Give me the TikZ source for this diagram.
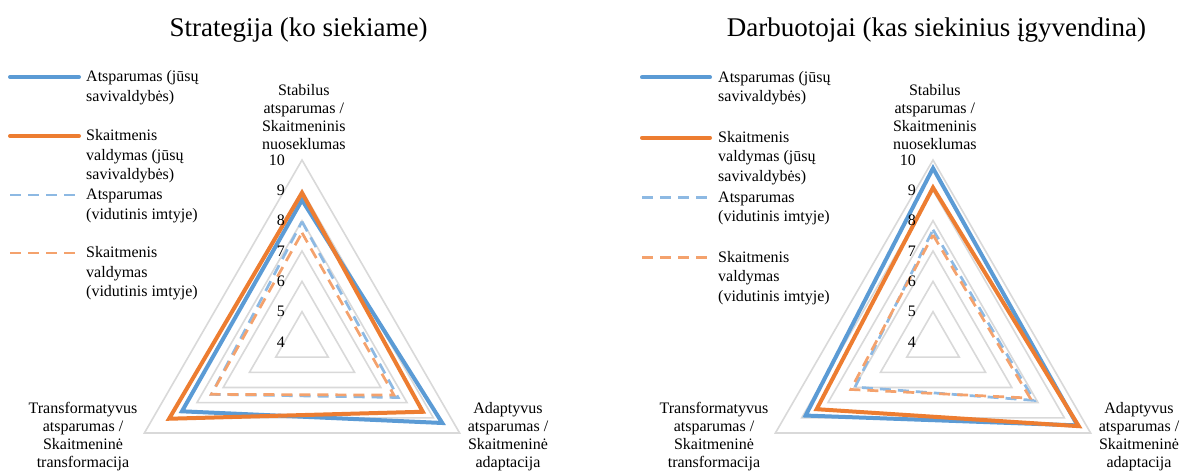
\documentclass[tikz,border=0pt]{standalone}
\usepackage{fontspec}
\setmainfont{Liberation Serif}
\usetikzlibrary{calc}
\definecolor{serA}{HTML}{5B9BD5}
\definecolor{serB}{HTML}{ED7D31}
\definecolor{serAl}{HTML}{8DB9E3}
\definecolor{serBl}{HTML}{F4A26D}
\definecolor{gridc}{HTML}{D9D9D9}
\newcommand\Uu{30.33}
\newcommand\rpoly[4]{\draw[#1] (-90:{(#2-4)*\Uu}) -- (30:{(#3-4)*\Uu}) -- (150:{(#4-4)*\Uu}) -- cycle;}
\newcommand\mlines[2]{\begin{tabular}[t]{@{}#1@{}}#2\end{tabular}}
\begin{document}
\begin{tikzpicture}[x=1pt,y=-1pt,
  gridline/.style={draw=gridc, line width=1.6pt},
  serAs/.style={draw=serA, line width=4pt},
  serBs/.style={draw=serB, line width=4pt},
  serAd/.style={draw=serAl, line width=2.7pt, dash pattern=on 11pt off 7pt},
  serBd/.style={draw=serBl, line width=2.7pt, dash pattern=on 11pt off 7pt},
  ttl/.style={inner sep=0pt, anchor=base, font=\fontsize{27}{32}\selectfont},
  lg/.style={inner sep=0pt, anchor=base west, font=\fontsize{16}{19.5}\selectfont},
  ax/.style={inner sep=0pt, anchor=base, font=\fontsize{16}{18.3}\selectfont},
  axb/.style={inner sep=0pt, anchor=base, font=\fontsize{16}{18}\selectfont},
  tick/.style={inner sep=0pt, anchor=east, font=\fontsize{16}{19}\selectfont}]
\useasboundingbox[fill=white] (0,0) rectangle (1182,471);

% titles
\node[ttl] (t1) at (298.5,36) {Strategija (ko siekiame)};
\node[ttl] (t2) at (936.5,36) {Darbuotojai (kas siekinius įgyvendina)};

% ---------- left chart ----------
\begin{scope}[shift={(302,342)}]
  \foreach \L in {5,...,10}{\rpoly{gridline}{\L}{\L}{\L}}
  \rpoly{serAs}{8.68}{9.34}{8.57}
  \rpoly{serBs}{8.92}{8.6}{9.06}
  \rpoly{serAd}{7.97}{7.66}{7.45}
  \rpoly{serBd}{7.6}{7.5}{7.45}
  \foreach \L in {4,...,10}{\node[tick] (la\L) at (-17,{-(\L-4)*\Uu}) {\L};}
\end{scope}
\node[ax] (la1) at (303.8,95) {\mlines{c}{Stabilus\\atsparumas /\\Skaitmeninis\\nuoseklumas}};
\node[axb] (la2) at (508,413.5) {\mlines{c}{Adaptyvus\\atsparumas /\\Skaitmeninė\\adaptacija}};
\node[axb] (la3) at (83,413.5) {\mlines{c}{Transformatyvus\\atsparumas /\\Skaitmeninė\\transformacija}};

% left legend
\draw[serAs, line cap=round] (10,77) -- (79,77);
\node[lg] (lg1) at (86,81.5) {\mlines{l}{Atsparumas (jūsų\\savivaldybės)}};
\draw[serBs, line cap=round] (10,136) -- (79,136);
\node[lg] (lg2) at (86,140.5) {\mlines{l}{Skaitmenis\\valdymas (jūsų\\savivaldybės)}};
\draw[serAd] (10,195) -- (77,195);
\node[lg] (lg3) at (86,199.5) {\mlines{l}{Atsparumas\\(vidutinis imtyje)}};
\draw[serBd] (10,253) -- (77,253);
\node[lg] (lg4) at (86,257.5) {\mlines{l}{Skaitmenis\\valdymas\\(vidutinis imtyje)}};

% ---------- right chart ----------
\begin{scope}[shift={(933,342)}]
  \foreach \L in {5,...,10}{\rpoly{gridline}{\L}{\L}{\L}}
  \rpoly{serAs}{9.73}{9.5}{8.85}
  \rpoly{serBs}{9.09}{9.55}{8.43}
  \rpoly{serAd}{7.7}{7.85}{6.97}
  \rpoly{serBd}{7.53}{7.7}{7.13}
  \foreach \L in {4,...,10}{\node[tick] (ra\L) at (-17,{-(\L-4)*\Uu}) {\L};}
\end{scope}
\node[ax] (ra1) at (934.8,95) {\mlines{c}{Stabilus\\atsparumas /\\Skaitmeninis\\nuoseklumas}};
\node[axb] (ra2) at (1139,413.5) {\mlines{c}{Adaptyvus\\atsparumas /\\Skaitmeninė\\adaptacija}};
\node[axb] (ra3) at (714,413.5) {\mlines{c}{Transformatyvus\\atsparumas /\\Skaitmeninė\\transformacija}};

% right legend
\draw[serAs, line cap=round] (642,77.3) -- (710,77.3);
\node[lg] (rg1) at (718,82) {\mlines{l}{Atsparumas (jūsų\\savivaldybės)}};
\draw[serBs, line cap=round] (642,137.7) -- (710,137.7);
\node[lg] (rg2) at (718,142.4) {\mlines{l}{Skaitmenis\\valdymas (jūsų\\savivaldybės)}};
\draw[serAd] (642,197.3) -- (708,197.3);
\node[lg] (rg3) at (718,202) {\mlines{l}{Atsparumas\\(vidutinis imtyje)}};
\draw[serBd] (642,257.7) -- (708,257.7);
\node[lg] (rg4) at (718,262.4) {\mlines{l}{Skaitmenis\\valdymas\\(vidutinis imtyje)}};
\end{tikzpicture}
\end{document}
